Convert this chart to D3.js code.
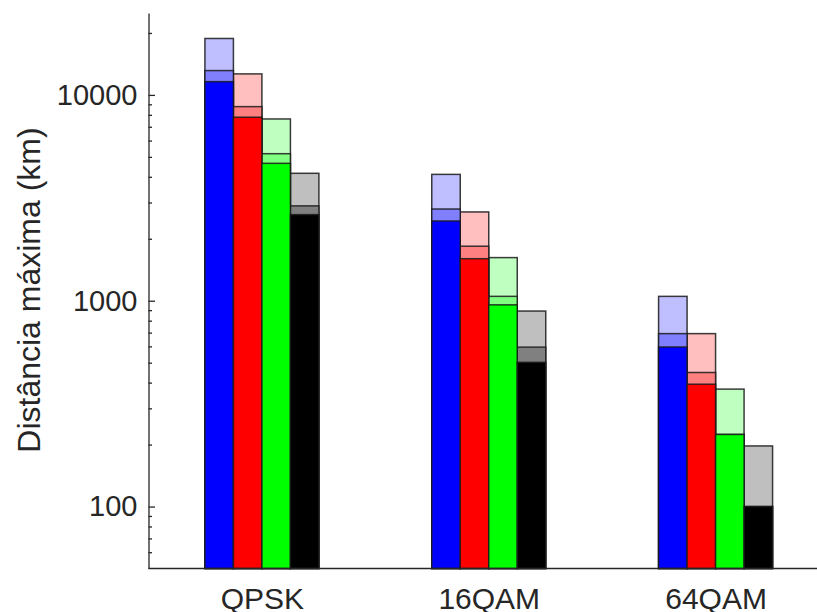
<!DOCTYPE html>
<meta charset="utf-8">
<head>
<script src="https://d3js.org/d3.v7.min.js"></script>
<style>
body { margin: 0; background: #fff; }
text { font-family: "Liberation Sans", Arial, sans-serif; fill: #262626; }
</style>
</head>
<body>
<script>

// Data (km), one row per series, one column per modulation
var categories = ["QPSK", "16QAM", "64QAM"];
var series = ["blue", "red", "green", "black"];

// light (top) layer
var topVals = [
  [18800, 4110, 1050],
  [12650, 2700, 692],
  [7640, 1620, 372],
  [4160, 891, 197]
];
// medium layer
var midVals = [
  [13130, 2790, 692],
  [8770, 1840, 448],
  [5180, 1050, 224],
  [2890, 595, 100]
];
// solid (bottom) layer
var lowVals = [
  [11600, 2440, 596],
  [7790, 1600, 393],
  [4650, 955, 224],
  [2620, 502, 100]
];

var majorTicks = [100, 1000, 10000];
var minorTicks = [60, 70, 80, 90, 200, 300, 400, 500, 600, 700, 800, 900,
                  2000, 3000, 4000, 5000, 6000, 7000, 8000, 9000, 20000];

var colors = {
  blue:  ["#bfbfff", "#8080ff", "#0000ff"],
  red:   ["#ffbfbf", "#ff8080", "#ff0000"],
  green: ["#bfffbf", "#80ff80", "#00ff00"],
  black: ["#bfbfbf", "#808080", "#000000"]
};

var width = 817, height = 612;
var x0 = 148.5, yBase = 568.5;

var svg = d3.select("body").append("svg")
    .attr("width", width)
    .attr("height", height);

// Scales
var x = d3.scaleLinear().domain([0.5, 3.5]).range([x0, 829]);
var xs = d3.scaleBand().domain(series).range([-57, 57]);
var y = d3.scaleLog().domain([50, 25000]).range([yBase, 13]);

// Bars: light, then medium, then solid on top
var layers = [topVals, midVals, lowVals];
layers.forEach(function(vals, li) {
  series.forEach(function(s, si) {
    svg.selectAll(".bar-" + li + "-" + si)
        .data(vals[si])
        .enter().append("rect")
        .attr("x", function(d, ci) { return x(ci + 1) + xs(s); })
        .attr("width", xs.bandwidth())
        .attr("y", function(d) { return y(d); })
        .attr("height", function(d) { return yBase - y(d); })
        .attr("fill", colors[s][li])
        .attr("stroke", "#1a1a1a")
        .attr("stroke-opacity", 0.85)
        .attr("stroke-width", 1.5);
  });
});

// Y axis (ticks inward)
var yAxis = svg.append("g")
    .attr("transform", "translate(" + x0 + ",0)")
    .call(d3.axisLeft(y).tickValues(majorTicks).tickFormat(d3.format("d"))
          .tickSizeInner(-6.5).tickSizeOuter(0).tickPadding(11));
svg.append("g")
    .attr("transform", "translate(" + x0 + ",0)")
    .call(d3.axisLeft(y).tickValues(minorTicks).tickFormat("")
          .tickSizeInner(-3.5).tickSizeOuter(0))
    .select(".domain").remove();
yAxis.selectAll("text").style("font-size", "29px").attr("fill", "#262626");

// X axis
var xAxis = svg.append("g")
    .attr("transform", "translate(0," + yBase + ")")
    .call(d3.axisBottom(x).tickValues([1, 2, 3])
          .tickFormat(function(d) { return categories[d - 1]; })
          .tickSize(0).tickPadding(19));
xAxis.select(".domain").attr("d", "M" + x0 + ",0H" + width);
xAxis.selectAll("text").style("font-size", "30px").attr("fill", "#262626");

svg.selectAll(".domain").attr("stroke", "#262626").attr("stroke-width", 1.3);
svg.selectAll(".tick line").attr("stroke", "#262626").attr("stroke-width", 1.3);

// Y label
svg.append("text")
    .attr("transform", "translate(40,290) rotate(-90)")
    .attr("text-anchor", "middle")
    .style("font-size", "32px")
    .text("Distância máxima (km)");

</script>
</body>
